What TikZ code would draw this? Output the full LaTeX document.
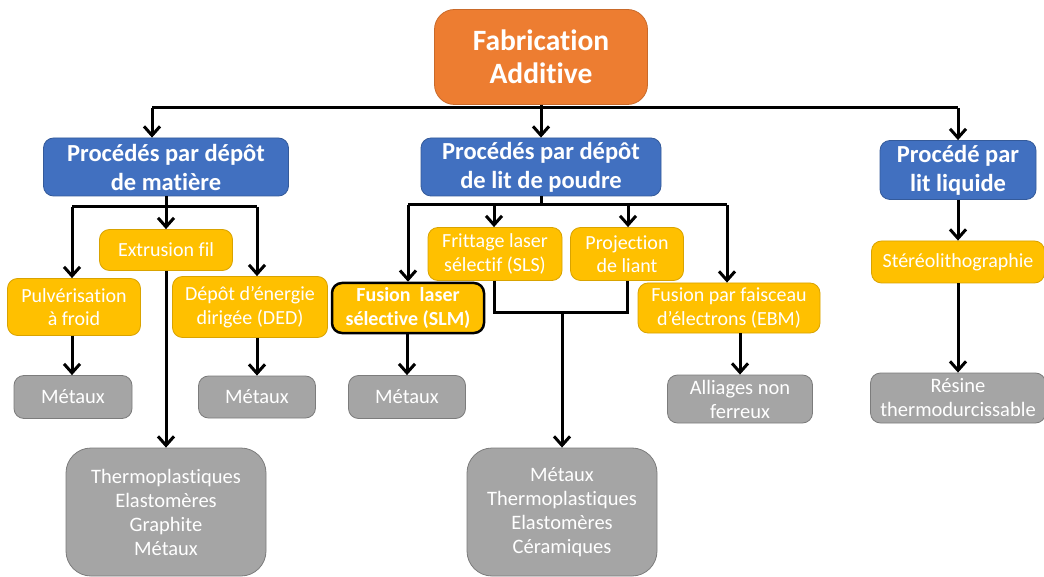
\documentclass[tikz,border=0pt]{standalone}
\usepackage{fontspec}
\setmainfont{Carlito}[Ligatures=NoCommon]
\usetikzlibrary{arrows.meta}
\definecolor{orng}{HTML}{ED7D31}
\definecolor{blu}{HTML}{4170C0}
\definecolor{yel}{HTML}{FFC000}
\definecolor{gry}{HTML}{A5A5A5}
\begin{document}
\begin{tikzpicture}[x=1pt,y=-1pt,
  bx/.style={rounded corners=10pt, text=white, align=center, inner sep=0pt, line width=0.8pt},
  topbox/.style={bx, fill=orng, draw=orng!85!black, rounded corners=20pt, font=\bfseries\fontsize{29.5}{33}\selectfont},
  catbox/.style={bx, fill=blu, draw=blu!80!black, font=\bfseries\fontsize{24.5}{29}\selectfont},
  procbox/.style={bx, fill=yel, draw=yel!85!black, font=\fontsize{20}{23.5}\selectfont},
  matbox/.style={bx, fill=gry, draw=gry!75!black, font=\fontsize{20.5}{24}\selectfont},
  bigmat/.style={matbox, rounded corners=25pt},
  conn/.style={line width=3pt, black},
  arr/.style={conn, -{Straight Barb[length=9pt,width=16pt]}}
]
\useasboundingbox (0,0) rectangle (1044,577);
\fill[white] (0,0) rectangle (1044,577);

% nodes
\node[topbox, minimum width=213pt, minimum height=95pt] (top) at (541,57) {Fabrication\\Additive};
\node[catbox, minimum width=245pt, minimum height=58pt] (cat1) at (166,167) {Procédés par dépôt\\de matière};
\node[catbox, minimum width=240pt, minimum height=58pt] (cat2) at (541,167) {Procédés par dépôt\\de lit de poudre};
\node[catbox, minimum width=156pt, minimum height=59pt] (cat3) at (958,170) {Procédé par\\lit liquide};

\node[procbox, minimum width=133pt, minimum height=41pt] (extr) at (166,250) {Extrusion fil};
\node[procbox, minimum width=133pt, minimum height=57pt] (pulv) at (74,307) {Pulvérisation\\à froid};
\node[procbox, minimum width=155pt, minimum height=61pt] (ded) at (250,307) {Dépôt d’énergie\\dirigée (DED)};
\node[matbox, minimum width=118pt, minimum height=43pt] (met1) at (73,397) {Métaux};
\node[matbox, minimum width=117pt, minimum height=42pt] (met2) at (257,397) {Métaux};
\node[bigmat, minimum width=200pt, minimum height=128pt] (mat1) at (166,512) {Thermoplastiques\\Elastomères\\Graphite\\Métaux};

\node[procbox, minimum width=134pt, minimum height=53pt] (sls) at (495,254) {Frittage laser\\sélectif (SLS)};
\node[procbox, minimum width=113pt, minimum height=53pt] (proj) at (627,254) {Projection\\de liant};
\node[procbox, draw=black, line width=2.5pt, font=\bfseries\fontsize{20}{23.5}\selectfont, minimum width=152pt, minimum height=50pt] (slm) at (408,308) {Fusion\ \ laser\\sélective (SLM)};
\node[procbox, minimum width=182pt, minimum height=50pt] (ebm) at (729,308) {Fusion par faisceau\\d’électrons (EBM)};
\node[matbox, minimum width=117pt, minimum height=43pt] (met3) at (407,397) {Métaux};
\node[matbox, minimum width=145pt, minimum height=48pt] (alli) at (740,399) {Alliages non\\ferreux};
\node[bigmat, minimum width=190pt, minimum height=128pt] (mat2) at (562,512) {Métaux\\Thermoplastiques\\Elastomères\\Céramiques};

\node[procbox, minimum width=173pt, minimum height=42pt] (stereo) at (958,262) {Stéréolithographie};
\node[matbox, minimum width=175pt, minimum height=50pt] (resine) at (958,398) {Résine\\thermodurcissable};

% top bus
\coordinate (busL) at (152,108);
\coordinate (busR) at (958,108);
\draw[conn] (busL) -- (busR);
\draw[conn] (top.south) -- (top.south |- busL);
\draw[arr] (busL) -- (busL |- cat1.north);
\draw[arr] (top.south |- busL) -- (cat2.north);
\draw[arr] (busR) -- (cat3.north);

% cat1 bus
\coordinate (c1L) at (72,207);
\coordinate (c1R) at (257,207);
\draw[conn] (cat1.south) -- (cat1.south |- c1L);
\draw[conn] (c1L) -- (c1R);
\draw[arr] (c1L) -- (c1L |- pulv.north);
\draw[arr] (cat1.south |- c1L) -- (extr.north);
\draw[arr] (c1R) -- (c1R |- ded.north);
\draw[arr] (c1L |- pulv.south) -- (c1L |- met1.north);
\draw[arr] (c1R |- ded.south) -- (c1R |- met2.north);
\draw[arr] (extr.south) -- (mat1.north);

% cat2 bus
\coordinate (c2L) at (408,205);
\coordinate (c2a) at (494,205);
\coordinate (c2b) at (628,205);
\coordinate (c2R) at (727,205);
\draw[conn] (cat2.south) -- (cat2.south |- c2L);
\draw[conn] (c2L) -- (c2R);
\draw[arr] (c2L) -- (c2L |- slm.north);
\draw[arr] (c2a) -- (c2a |- sls.north);
\draw[arr] (c2b) -- (c2b |- proj.north);
\draw[arr] (c2R) -- (c2R |- ebm.north);
\coordinate (jL) at (494,313);
\coordinate (jR) at (627,313);
\coordinate (jM) at (562,313);
\draw[conn] (jL |- sls.south) -- (jL) -- (jR) -- (jR |- proj.south);
\draw[arr] (jM) -- (mat2.north);
\draw[arr] (slm.south -| met3) -- (met3.north);
\draw[arr] (alli.north |- ebm.south) -- (alli.north);

% cat3
\draw[arr] (cat3.south) -- (stereo.north);
\draw[arr] (stereo.south) -- (resine.north);
\end{tikzpicture}
\end{document}
